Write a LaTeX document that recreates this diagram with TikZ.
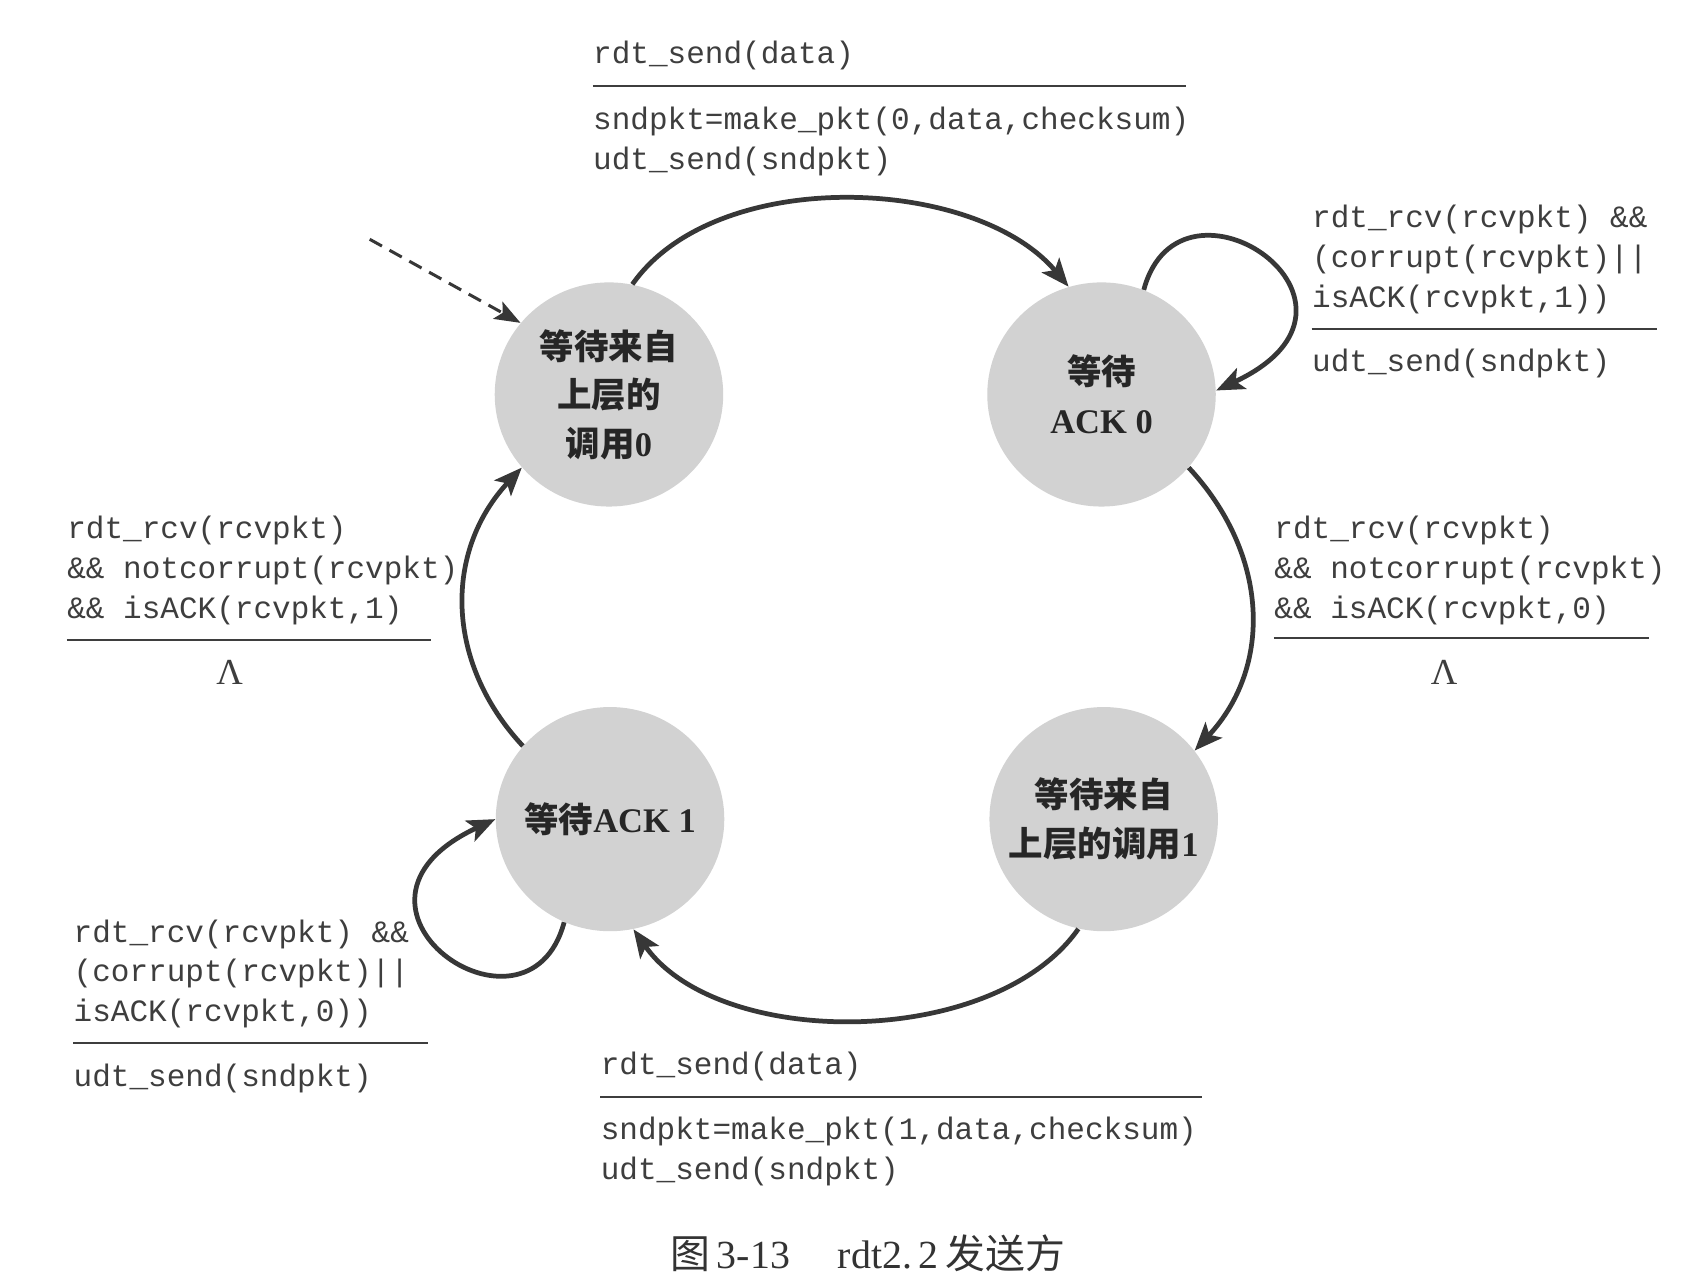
\documentclass[tikz,border=0pt]{standalone}
\usepackage{fontspec}
\setmainfont{Liberation Serif}
\setmonofont{Liberation Mono}
\newfontfamily\cjk{Noto Sans CJK SC}
\usetikzlibrary{arrows.meta,shapes.geometric}
\definecolor{stfill}{RGB}{210,210,210}
\definecolor{arr}{RGB}{55,55,55}
\definecolor{txt}{RGB}{62,62,62}
\tikzset{
  state/.style={ellipse, fill=stfill, draw=none, minimum width=106pt, minimum height=104pt, inner sep=0pt},
  stxt/.style={inner sep=0pt, align=center, text=black!85, font=\fontsize{16}{22.5}\selectfont\bfseries},
  conn/.style={line width=2.2pt, draw=arr, -{Stealth[length=13pt,width=10.5pt,inset=3pt]}},
  initconn/.style={line width=1.4pt, draw=arr, dash pattern=on 6.5pt off 4pt, -{Stealth[length=12pt,width=9pt,inset=2.5pt]}},
  lbl/.style={anchor=base west, inner sep=0pt, text=txt, font=\fontsize{14.4}{18.5}\selectfont\ttfamily},
  rule/.style={line width=1pt, draw=txt},
  lam/.style={inner sep=0pt, text=txt, font=\fontsize{17}{17}\selectfont},
}
\begin{document}
\begin{tikzpicture}[x=0.5pt,y=0.5pt]
\useasboundingbox (0,0) rectangle (1568,1191);
\fill[white] (0,0) rectangle (1568,1191);

% states
\node[state, label={[stxt]center:{{\cjk 等待来自}\\{\cjk 上层的}\\{\cjk 调用}0}}] (S0) at (565,825) {};
\node[state, label={[stxt]center:{{\cjk 等待}\\ACK 0}}] (S1) at (1022,825) {};
\node[state, label={[stxt]center:{{\cjk 等待}ACK 1}}] (S2) at (566,431) {};
\node[state, label={[stxt]center:{{\cjk 等待来自}\\{\cjk 上层的调用}1}}] (S3) at (1024,431) {};

% initial arrow
\coordinate (init) at (343,969);
\draw[initconn] (init) -- (S0.141);

% transitions
\draw[conn] (S0.78) to[out=55,in=130,looseness=0.85] (S1.107);
\draw[conn] (S1.68) .. controls +(75:130) and +(25:190) .. (S1.2);
\draw[conn] (S1.-40) to[out=-47,in=47,looseness=1.05] (S3.37);
\draw[conn] (S3.257) to[out=235,in=-55,looseness=0.85] (S2.282);
\draw[conn] (S2.140) to[out=133,in=-133,looseness=1.05] (S0.220);
\draw[conn] (S2.246) .. controls +(255:130) and +(205:190) .. (S2.180);

% top label
\node[lbl] (t1) at (550,1132) {rdt\_send(data)};
\coordinate (t0a) at (550,1111); \coordinate (t0b) at (1100,1111);
\draw[rule] (t0a) -- (t0b);
\node[lbl] (t2) at (550,1071) {sndpkt=make\_pkt(0,data,checksum)};
\node[lbl] (t3) at (550,1034) {udt\_send(sndpkt)};

% S1 loop label
\node[lbl] (r1) at (1217,980) {rdt\_rcv(rcvpkt) \&\&};
\node[lbl] (r2) at (1217,943) {(corrupt(rcvpkt)||};
\node[lbl] (r3) at (1217,906) {isACK(rcvpkt,1))};
\coordinate (r0a) at (1217,886); \coordinate (r0b) at (1537,886);
\draw[rule] (r0a) -- (r0b);
\node[lbl] (r4) at (1217,846) {udt\_send(sndpkt)};

% right middle label
\node[lbl] (m1) at (1182,691) {rdt\_rcv(rcvpkt)};
\node[lbl] (m2) at (1182,654) {\&\& notcorrupt(rcvpkt)};
\node[lbl] (m3) at (1182,617) {\&\& isACK(rcvpkt,0)};
\coordinate (m0a) at (1182,599); \coordinate (m0b) at (1530,599);
\draw[rule] (m0a) -- (m0b);
\node[lam] (mL) at (1340,567) {Λ};

% left middle label
\node[lbl] (l1) at (62,691) {rdt\_rcv(rcvpkt)};
\node[lbl] (l2) at (62,654) {\&\& notcorrupt(rcvpkt)};
\node[lbl] (l3) at (62,617) {\&\& isACK(rcvpkt,1)};
\coordinate (l0a) at (62,597); \coordinate (l0b) at (400,597);
\draw[rule] (l0a) -- (l0b);
\node[lam] (lL) at (213,567) {Λ};

% left bottom label
\node[lbl] (b1) at (68,317) {rdt\_rcv(rcvpkt) \&\&};
\node[lbl] (b2) at (68,280) {(corrupt(rcvpkt)||};
\node[lbl] (b3) at (68,243) {isACK(rcvpkt,0))};
\coordinate (b0a) at (68,223); \coordinate (b0b) at (397,223);
\draw[rule] (b0a) -- (b0b);
\node[lbl] (b4) at (68,183) {udt\_send(sndpkt)};

% bottom label
\node[lbl] (d1) at (557,194) {rdt\_send(data)};
\coordinate (d0a) at (557,173); \coordinate (d0b) at (1115,173);
\draw[rule] (d0a) -- (d0b);
\node[lbl] (d2) at (557,134) {sndpkt=make\_pkt(1,data,checksum)};
\node[lbl] (d3) at (557,97) {udt\_send(sndpkt)};

% caption
\node[inner sep=0pt, text=black!80, font=\fontsize{18.5}{18.5}\selectfont] (cap) at (805,28)
  {{\cjk 图}\,3-13\hspace{1.2em}rdt2.\,2\,{\cjk 发送方}};
\end{tikzpicture}
\end{document}
